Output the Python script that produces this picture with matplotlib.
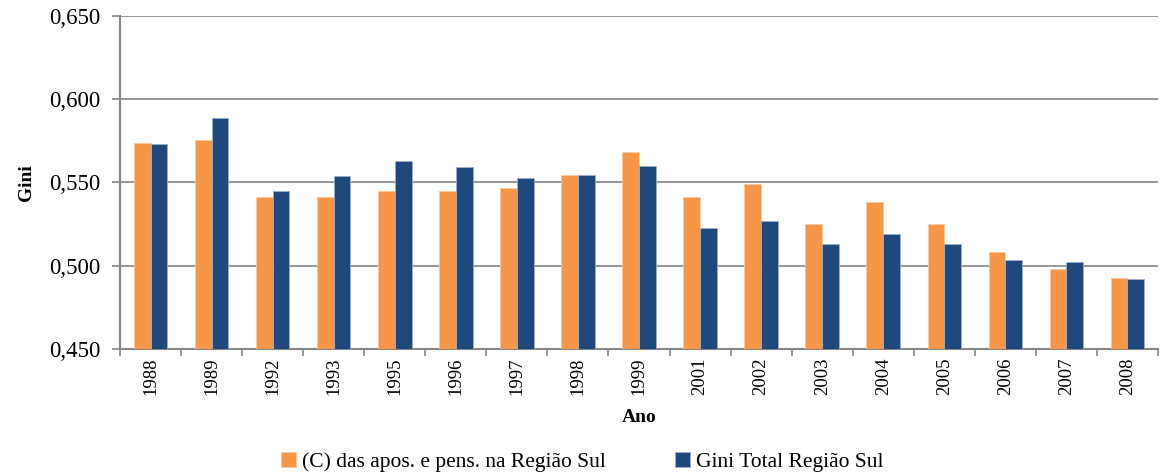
import matplotlib.pyplot as plt
import numpy as np

anos = ['1988', '1989', '1992', '1993', '1995', '1996', '1997', '1998', '1999',
        '2001', '2002', '2003', '2004', '2005', '2006', '2007', '2008']
gini_apos = [0.574, 0.5755, 0.541, 0.541, 0.5447, 0.545, 0.5467, 0.5547, 0.5683,
             0.541, 0.549, 0.525, 0.538, 0.525, 0.508, 0.498, 0.4926]
gini_total = [0.573, 0.589, 0.5447, 0.554, 0.563, 0.5593, 0.5527, 0.5547, 0.560,
              0.5227, 0.527, 0.5132, 0.519, 0.513, 0.5036, 0.502, 0.4919]

plt.rcParams['font.family'] = ['Liberation Serif', 'DejaVu Serif']

fig = plt.figure(figsize=(11.6, 4.74), dpi=100)
ax = fig.add_axes([120 / 1160, 1 - 349 / 474, 1038 / 1160, 333 / 474])

x = np.arange(len(anos))
w = 0.275
ax.bar(x - w / 2, gini_apos, w, color='#F79646', edgecolor='#FBC9A0', lw=0.6,
       label='(C) das apos. e pens. na Região Sul', zorder=3)
ax.bar(x + w / 2, gini_total, w, color='#1F497D', edgecolor='#9DB0C8', lw=0.6,
       label='Gini Total Região Sul', zorder=3)

ax.set_xlim(-0.5, len(anos) - 0.5)
ax.set_ylim(0.45, 0.65)
yt = np.arange(0.45, 0.651, 0.05)
ax.set_yticks(yt)
ax.set_yticklabels([f'{v:.3f}'.replace('.', ',') for v in yt], fontsize=16.5)
ax.set_xticks(x)
ax.set_xticklabels(anos, rotation=90, fontsize=13.5)
ax.set_xticks(np.arange(-0.5, len(anos)), minor=True)
ax.tick_params(axis='x', which='major', length=0, pad=6)
ax.tick_params(axis='x', which='minor', length=5, color='#868686', width=1.2)
ax.tick_params(axis='y', length=6, color='#868686', width=1.2, pad=8)

ax.grid(axis='y', color='#868686', lw=1.2, zorder=0)
for s in ['top', 'right']:
    ax.spines[s].set_visible(False)
for s in ['left', 'bottom']:
    ax.spines[s].set_color('#868686')
    ax.spines[s].set_linewidth(1.5)

ax.set_ylabel('Gini', fontsize=14, fontweight='bold', labelpad=10)
ax.set_xlabel('Ano', fontsize=14, fontweight='bold', labelpad=10)

fig.legend(loc='center', bbox_to_anchor=(0.502, 0.025), ncol=2, frameon=False,
           fontsize=15.5, handlelength=0.7, handleheight=0.7, handletextpad=0.3,
           columnspacing=3.2)

fig.savefig('out.png', dpi=100)
